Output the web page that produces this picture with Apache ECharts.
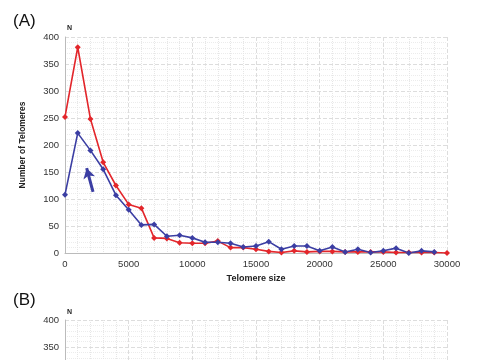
<!DOCTYPE html>
<html><head><meta charset="utf-8">
<script src="https://cdn.jsdelivr.net/npm/echarts@6/dist/echarts.min.js"></script>
<style>html,body{margin:0;padding:0;background:#fff}#c{width:485px;height:360px}</style>
</head><body><div id="c"></div>
<script>
const telomereSize = [0,1000,2000,3000,4000,5000,6000,7000,8000,9000,10000,11000,12000,13000,14000,15000,16000,17000,18000,19000,20000,21000,22000,23000,24000,25000,26000,27000,28000,29000,30000];
const redCounts = [252,381,248,168,125,90,83,28,27,19,18,18,22,10,10,7,3,1,4,2,3,3,2,2,2,2,1,1,1,1,0];
const blueCounts = [108,222,190,155,107,80,52,53,31,33,28,20,20,18,11,13,21,7,13,13,4,11,2,7,1,4,9,0,4,2];
const arrowFrom = [2200, 113];
const arrowTo = [1700, 157];
const yTicksMax = 400;

const font = 'Liberation Sans, Arial, sans-serif';
const chart = echarts.init(document.getElementById('c'), null, {renderer:'canvas'});

function xAxis(gridIndex, showName){
  return {type:'value', gridIndex, min:0, max:30000, interval:5000,
    name: showName ? 'Telomere size' : '', nameLocation:'middle', nameGap:20,
    nameTextStyle:{fontFamily:font, fontWeight:'bold', fontSize:9, color:'#222'},
    axisLine:{lineStyle:{color:'#bbb'}}, axisTick:{show:false},
    axisLabel:{fontFamily:font, fontSize:9.5, color:'#333', margin:6, formatter:v=>String(v)},
    splitLine:{lineStyle:{color:'#ddd', type:'dashed'}},
    minorTick:{show:false, splitNumber:5},
    minorSplitLine:{show:true, lineStyle:{color:'#e6e6e6', type:'dotted'}}};
}
function yAxis(gridIndex, showName){
  return {type:'value', gridIndex, min:0, max:yTicksMax, interval:50,
    name: showName ? 'Number of Telomeres' : '', nameLocation:'middle', nameGap:38, nameRotate:90,
    nameTextStyle:{fontFamily:font, fontWeight:'bold', fontSize:8.5, color:'#222'},
    axisLine:{show:true, lineStyle:{color:'#bbb'}}, axisTick:{show:false},
    axisLabel:{fontFamily:font, fontSize:9.5, color:'#333', margin:6, formatter:v=>String(v)},
    splitLine:{lineStyle:{color:'#ddd', type:'dashed'}},
    minorTick:{show:false, splitNumber:5},
    minorSplitLine:{show:true, lineStyle:{color:'#ececec', type:'dotted'}}};
}

chart.setOption({
  animation:false,
  grid:[{left:65, right:38, top:37, height:216, outerBoundsMode:'none'},
        {left:65, right:38, top:320, height:216, outerBoundsMode:'none'}],
  xAxis:[xAxis(0,true), xAxis(1,false)],
  yAxis:[yAxis(0,true), yAxis(1,false)],
  title:[
    {text:'(A)', left:8, top:8, textStyle:{fontFamily:font, fontWeight:'normal', fontSize:17, color:'#111'}},
    {text:'N', left:62, top:20, textStyle:{fontFamily:font, fontWeight:'bold', fontSize:7, color:'#222'}},
    {text:'(B)', left:8, top:287, textStyle:{fontFamily:font, fontWeight:'normal', fontSize:17, color:'#111'}},
    {text:'N', left:62, top:304, textStyle:{fontFamily:font, fontWeight:'bold', fontSize:7, color:'#222'}}
  ],
  series:[
    {type:'line', xAxisIndex:0, yAxisIndex:0, data:telomereSize.map((x,i)=>[x,redCounts[i]]),
     symbol:'diamond', symbolSize:6, lineStyle:{color:'#e3262b', width:1.6}, itemStyle:{color:'#e3262b'}},
    {type:'line', xAxisIndex:0, yAxisIndex:0, data:blueCounts.map((y,i)=>[telomereSize[i],y]),
     symbol:'diamond', symbolSize:6, lineStyle:{color:'#3b3ea3', width:1.6}, itemStyle:{color:'#3b3ea3'},
     markLine:{silent:true, symbol:['none','arrow'], symbolSize:[9,10], label:{show:false},
       lineStyle:{color:'#3b3ea3', width:3, type:'solid'},
       data:[[{coord:arrowFrom},{coord:arrowTo}]]}},
    {type:'line', xAxisIndex:1, yAxisIndex:1, data:[]}
  ]
});
</script></body></html>
